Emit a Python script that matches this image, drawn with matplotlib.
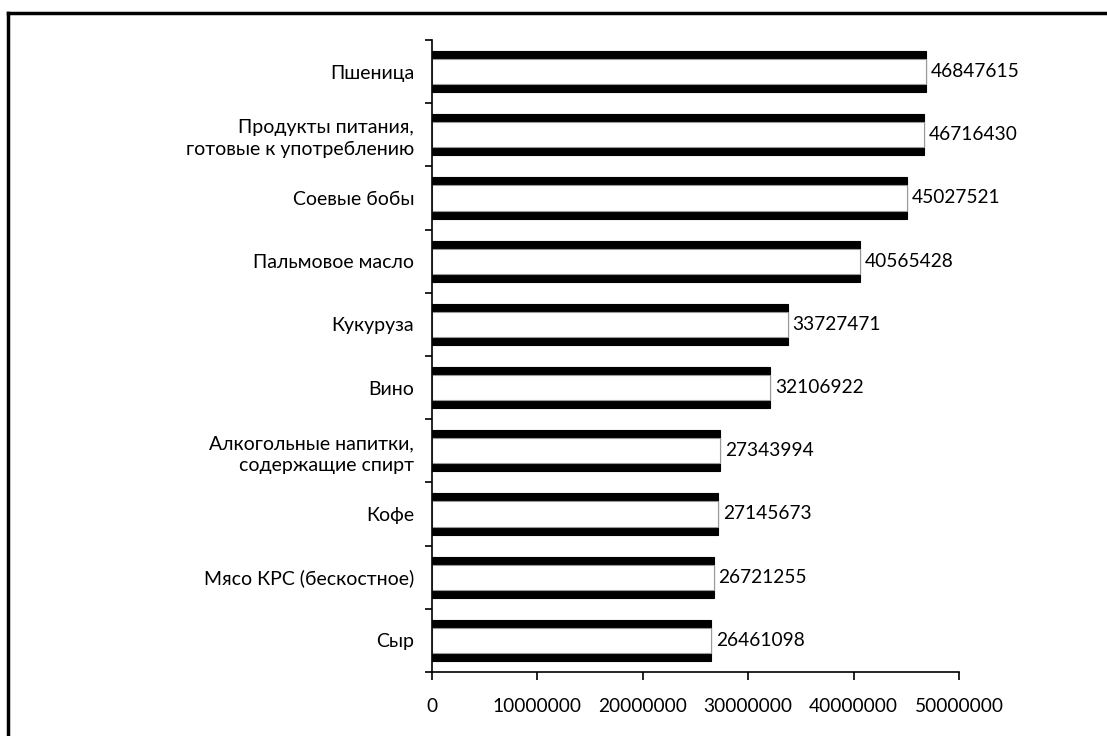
import matplotlib.pyplot as plt
from matplotlib.lines import Line2D

categories = ["Сыр", "Мясо КРС (бескостное)", "Кофе",
              "Алкогольные напитки,\nсодержащие спирт", "Вино", "Кукуруза",
              "Пальмовое масло", "Соевые бобы",
              "Продукты питания,\nготовые к употреблению", "Пшеница"]
values = [26461098, 26721255, 27145673, 27343994, 32106922, 33727471,
          40565428, 45027521, 46716430, 46847615]
xticks = [0, 10000000, 20000000, 30000000, 40000000, 50000000]

plt.rcParams['font.family'] = ['Lato', 'DejaVu Sans']

fig = plt.figure(figsize=(11.07, 7.36), dpi=100)
ax = fig.add_axes([0.3903, 0.087, 0.4760, 0.8587])

pos = list(range(len(categories)))
ax.barh(pos, values, height=0.65, color='black', edgecolor='black', linewidth=0.8)
ax.barh(pos, values, height=0.40, color='white', edgecolor='#9a9a9a', linewidth=0.8)

for p, v in zip(pos, values):
    ax.text(v + 450000, p, str(v), va='center', ha='left', fontsize=13.8)

ax.set_xlim(0, 50000000)
ax.set_ylim(-0.5, len(categories) - 0.5)
ax.set_xticks(xticks)
ax.set_xticklabels([str(t) for t in xticks])
ax.set_yticks(pos)
ax.set_yticklabels(categories, ha='right', multialignment='right', linespacing=1.35)
ax.set_yticks([p - 0.5 for p in pos] + [len(categories) - 0.5], minor=True)
ax.tick_params(axis='y', which='major', length=0, pad=13, labelsize=14)
ax.tick_params(axis='y', which='minor', length=5, width=1.2, direction='out')
ax.tick_params(axis='x', length=6, width=1.2, direction='out', pad=13, labelsize=13.8)

for s in ['top', 'right']:
    ax.spines[s].set_visible(False)
ax.spines['left'].set_linewidth(1.2)
ax.spines['bottom'].set_linewidth(1.2)

# outer frame, only top and left are visible in the picture
fig.add_artist(Line2D([0.0075, 1.0], [0.9823, 0.9823], color='black', linewidth=2.5,
                      transform=fig.transFigure))
fig.add_artist(Line2D([0.0075, 0.0075], [0.0, 0.9823], color='black', linewidth=2.5,
                      transform=fig.transFigure))

fig.savefig('out.png', dpi=100)
